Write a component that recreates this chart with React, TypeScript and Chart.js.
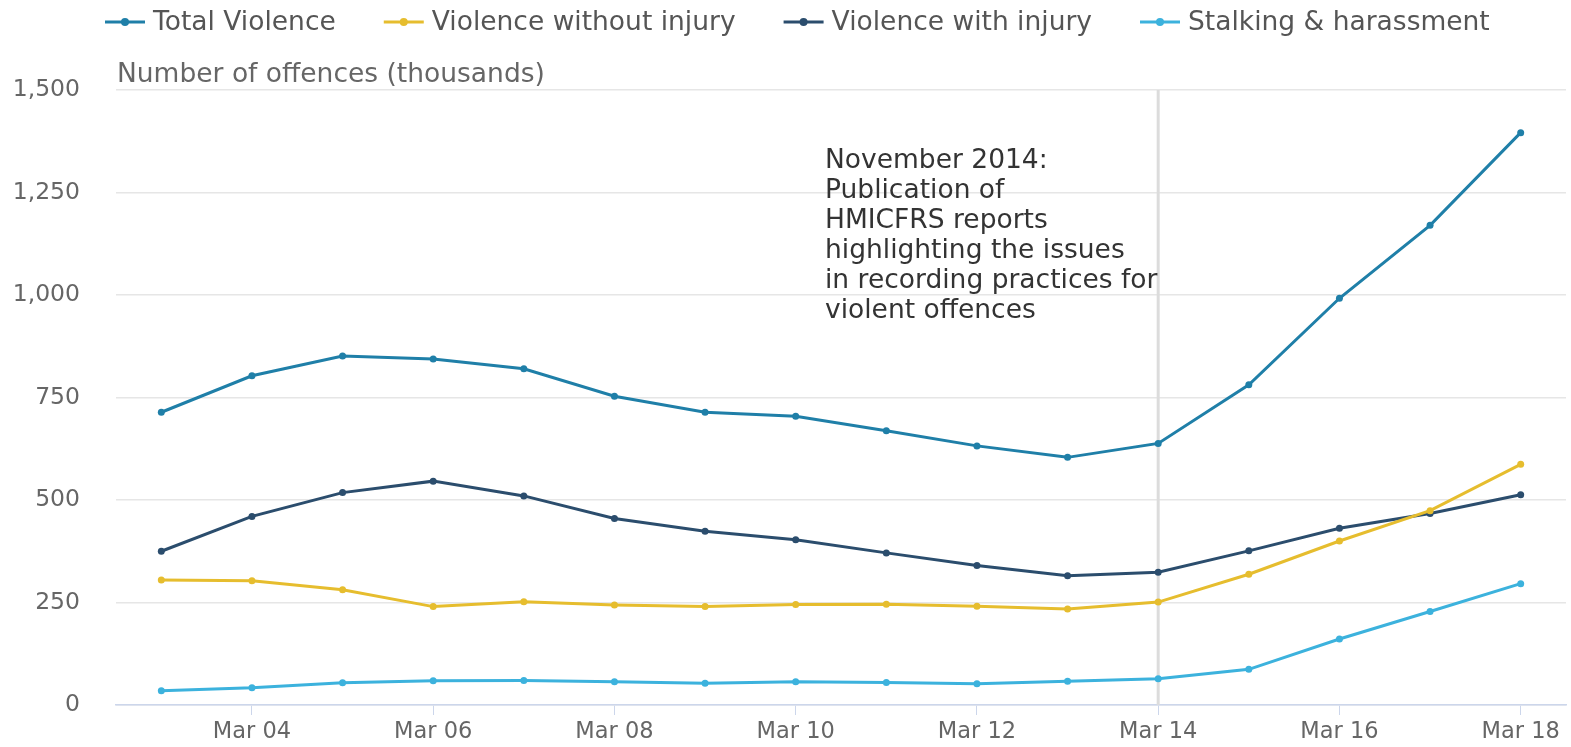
import React, { useEffect, useRef } from "react";
import { Chart, registerables } from "chart.js";

Chart.register(...registerables);

const categories = ["Mar 03", "Mar 04", "Mar 05", "Mar 06", "Mar 07", "Mar 08", "Mar 09", "Mar 10", "Mar 11", "Mar 12", "Mar 13", "Mar 14", "Mar 15", "Mar 16", "Mar 17", "Mar 18"];
const totalViolence = [714, 803, 851, 844, 820, 753, 714, 704, 669, 632, 604, 638, 781, 992, 1170, 1396];
const withoutInjury = [305, 303, 281, 240, 252, 244, 240, 245, 246, 241, 234, 251, 319, 400, 474, 587];
const withInjury = [375, 460, 518, 546, 510, 455, 424, 403, 371, 340, 315, 324, 376, 431, 467, 513];
const stalking = [35, 42, 54, 59, 60, 57, 53, 57, 55, 52, 58, 64, 87, 161, 228, 296];
const seriesNames = ["Total Violence", "Violence without injury", "Violence with injury", "Stalking & harassment"];
const seriesColors = ["#1f7fa8", "#e6bd2e", "#2b4d6d", "#3cb2dd"];
const yTicks = [0, 250, 500, 750, 1000, 1250, 1500];
const axisTitle = "Number of offences (thousands)";
const markerCategory = "Mar 14";
const annotationLines = ["November 2014:", "Publication of", "HMICFRS reports", "highlighting the issues", "in recording practices for", "violent offences"];

const FONT = "'DejaVu Sans', sans-serif";

const overlayPlugin = {
  id: "overlay",
  beforeDatasetsDraw(chart: any) {
    const { ctx, chartArea, scales } = chart;
    const x = scales.x.getPixelForValue(categories.indexOf(markerCategory));
    ctx.save();
    ctx.strokeStyle = "#dcdcdc";
    ctx.lineWidth = 3;
    ctx.beginPath();
    ctx.moveTo(x, chartArea.top);
    ctx.lineTo(x, chartArea.bottom);
    ctx.stroke();
    ctx.restore();
  },
  afterDraw(chart: any) {
    const { ctx, chartArea } = chart;
    ctx.save();
    // legend
    ctx.font = `26.5px ${FONT}`;
    ctx.textBaseline = "middle";
    let x = 105;
    const y = 22;
    seriesNames.forEach((name, i) => {
      ctx.strokeStyle = seriesColors[i];
      ctx.lineWidth = 3;
      ctx.beginPath();
      ctx.moveTo(x, y);
      ctx.lineTo(x + 40, y);
      ctx.stroke();
      ctx.fillStyle = seriesColors[i];
      ctx.beginPath();
      ctx.arc(x + 20, y, 4, 0, Math.PI * 2);
      ctx.fill();
      ctx.fillStyle = "#555555";
      ctx.textAlign = "left";
      ctx.fillText(name, x + 48, y + 1);
      x += 48 + ctx.measureText(name).width + 48;
    });
    // axis title
    ctx.font = `26.5px ${FONT}`;
    ctx.fillStyle = "#666666";
    ctx.fillText(axisTitle, chartArea.left + 1, 75);
    // annotation
    ctx.font = `26.5px ${FONT}`;
    ctx.fillStyle = "#333333";
    annotationLines.forEach((line, i) => {
      ctx.fillText(line, 825, 161 + i * 30);
    });
    ctx.restore();
  },
};

export default function App() {
  const ref = useRef<HTMLCanvasElement>(null);
  useEffect(() => {
    document.body.style.margin = "0";
    const mk = (label: string, data: number[], color: string) => ({
      label,
      data,
      borderColor: color,
      backgroundColor: color,
      pointBackgroundColor: color,
      pointBorderColor: color,
      borderWidth: 3,
      pointRadius: 3.5,
      pointBorderWidth: 0,
      tension: 0,
    });
    const chart = new Chart(ref.current as HTMLCanvasElement, {
      type: "line",
      data: {
        labels: categories,
        datasets: [
          mk(seriesNames[0], totalViolence, seriesColors[0]),
          mk(seriesNames[1], withoutInjury, seriesColors[1]),
          mk(seriesNames[2], withInjury, seriesColors[2]),
          mk(seriesNames[3], stalking, seriesColors[3]),
        ],
      },
      options: {
        animation: false,
        responsive: false,
        maintainAspectRatio: false,
        layout: { padding: { top: 90, right: 5, left: 0, bottom: 0 } },
        plugins: { legend: { display: false }, title: { display: false }, tooltip: { enabled: false } },
        scales: {
          x: {
            type: "category",
            offset: true,
            border: { display: true, color: "#ccd6eb", width: 1.5 },
            grid: {
              display: true,
              drawOnChartArea: false,
              drawTicks: true,
              tickLength: 10,
              color: (c: any) => (c.index % 2 === 1 ? "#ccd6eb" : "rgba(0,0,0,0)"),
            },
            ticks: {
              autoSkip: false,
              maxRotation: 0,
              padding: 4,
              color: "#666666",
              font: { family: FONT, size: 22.5 },
              callback: (_v: any, i: number) => (i % 2 === 1 ? categories[i] : ""),
            },
            afterFit: (s: any) => {
              s.height = 42;
            },
          },
          y: {
            min: yTicks[0],
            max: yTicks[yTicks.length - 1],
            border: { display: false },
            grid: { color: "#e6e6e6", lineWidth: 1.5, drawTicks: true, tickLength: 32, tickColor: "rgba(0,0,0,0)" },
            ticks: {
              stepSize: 250,
              padding: 4,
              color: "#666666",
              font: { family: FONT, size: 23.5 },
              callback: (v: any) => Number(v).toLocaleString("en-US"),
            },
            afterFit: (s: any) => {
              s.width = 116;
            },
          },
        },
      },
      plugins: [overlayPlugin],
    });
    return () => chart.destroy();
  }, []);
  return (
    <div style={{ width: 1571, height: 747 }}>
      <canvas ref={ref} width={1571} height={747} style={{ width: 1571, height: 747, display: "block" }} />
    </div>
  );
}
